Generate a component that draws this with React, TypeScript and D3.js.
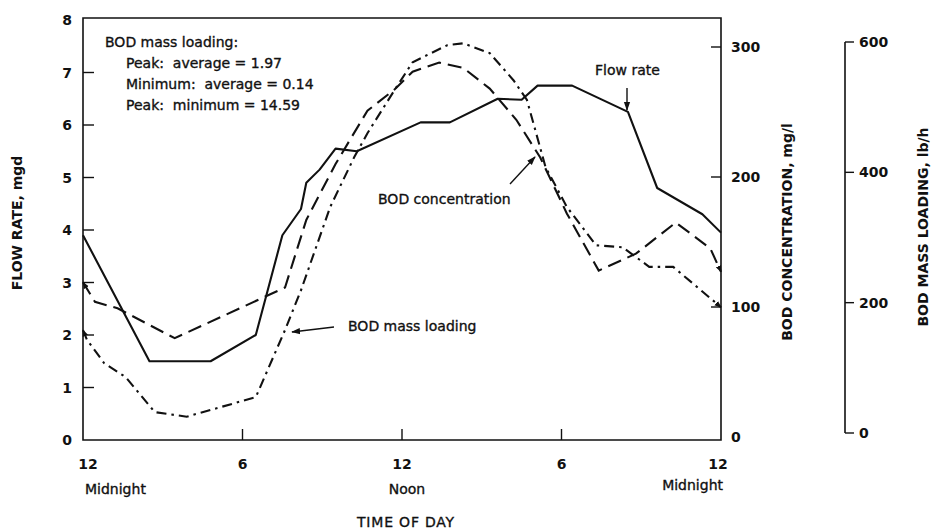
import * as d3 from "d3";

// time of day in hours from midnight
const flowRate: [number, number][] = [
  [0, 3.9], [2.5, 1.5], [4.8, 1.5], [6.5, 2.0], [7.5, 3.9], [8.2, 4.4], [8.4, 4.9],
  [8.9, 5.15], [9.5, 5.55], [10.3, 5.5], [12.7, 6.05], [13.8, 6.05], [15.6, 6.5],
  [16.5, 6.48], [17.1, 6.75], [18.4, 6.75], [20.5, 6.25], [21.6, 4.8], [23.3, 4.3], [24, 3.95],
];

// mg/l
const bodConc: [number, number][] = [
  [0, 119], [0.45, 104], [1.3, 99], [3.45, 76], [7.6, 115], [8.4, 167], [9.5, 210],
  [10.7, 251], [11.7, 267], [12.4, 281], [13.4, 288], [14.3, 284], [15.3, 268],
  [16.3, 244], [17.2, 215], [18.2, 172], [19.4, 128], [20.8, 141], [22.3, 165],
  [23.6, 145], [24, 127],
];

// lb/h
const bodLoad: [number, number][] = [
  [0, 158], [0.15, 143], [0.8, 107], [1.6, 86], [2.7, 32], [3.9, 25], [6.5, 55],
  [7.6, 158], [8.2, 219], [9.3, 347], [10.2, 423], [10.7, 460], [11.7, 525],
  [12.4, 569], [13.7, 595], [14.3, 598], [15.3, 583], [16.2, 541], [16.7, 511],
  [17.4, 408], [18.2, 347], [19.3, 288], [20.3, 285], [21.3, 255], [22.2, 255], [24, 193],
];

const hourTicks = [0, 6, 12, 18, 24];
const hourLabels = ["12", "6", "12", "6", "12"];
const flowTicks = [0, 1, 2, 3, 4, 5, 6, 7, 8];
const concTicks = [0, 100, 200, 300];
const loadTicks = [0, 200, 400, 600];
const noteLines = [
  "Peak:\u00a0\u00a0average = 1.97",
  "Minimum:\u00a0\u00a0average = 0.14",
  "Peak:\u00a0\u00a0minimum = 14.59",
];

const font = "'DejaVu Sans', sans-serif";
const ink = "#111";

export default function App() {
  const x = d3.scaleLinear().domain([0, 24]).range([83, 721]);
  const yFlow = d3.scaleLinear().domain([0, 8]).range([440, 20]);
  const yConc = d3.scaleLinear().domain([0, 300]).range([437, 47]);
  const yLoad = d3.scaleLinear().domain([0, 600]).range([433, 42]);

  const lineFlow = d3.line<[number, number]>().x((d) => x(d[0])).y((d) => yFlow(d[1]));
  const lineConc = d3.line<[number, number]>().x((d) => x(d[0])).y((d) => yConc(d[1]));
  const lineLoad = d3.line<[number, number]>().x((d) => x(d[0])).y((d) => yLoad(d[1]));

  const left = x(0);
  const right = x(24);
  const top = 18;
  const bottom = 440;
  const loadAxisX = 845;

  return (
    <svg
      width={935}
      height={530}
      style={{ position: "absolute", left: 0, top: 0, background: "#fff" }}
      fontFamily={font}
    >
      <defs>
        <marker id="arr" viewBox="0 0 10 10" refX="9" refY="5" markerWidth="9" markerHeight="9"
          markerUnits="userSpaceOnUse" orient="auto-start-reverse">
          <path d="M0,1.5 L10,5 L0,8.5 z" fill={ink} />
        </marker>
        <marker id="tip" viewBox="0 0 10 10" refX="9" refY="5" markerWidth="7" markerHeight="7"
          markerUnits="userSpaceOnUse" orient="auto-start-reverse">
          <path d="M0,1 L10,5 L0,9 z" fill={ink} />
        </marker>
      </defs>

      {/* frame */}
      <path
        d={`M${left},${top} L${right},${top} L${right},${bottom} L${left},${bottom} Z`}
        fill="none"
        stroke={ink}
        strokeWidth={1.6}
      />

      {/* left axis ticks */}
      {flowTicks.map((t) => (
        <g key={"f" + t}>
          {t > 0 && t < 8 && (
            <line x1={left} x2={left + 11} y1={yFlow(t)} y2={yFlow(t)} stroke={ink} strokeWidth={1.4} />
          )}
          <text x={72} y={yFlow(t)} dy="0.36em" textAnchor="end" fontSize={14} fontWeight="bold" fill={ink}>
            {t}
          </text>
        </g>
      ))}

      {/* bottom axis */}
      {hourTicks.map((h, i) => (
        <g key={"h" + i}>
          {h > 0 && h < 24 && (
            <line x1={x(h)} x2={x(h)} y1={bottom} y2={bottom - 11} stroke={ink} strokeWidth={1.4} />
          )}
          <text
            x={x(h) + (i === 0 ? 5 : i === 4 ? -3 : 0)}
            y={469}
            textAnchor="middle"
            fontSize={14}
            fontWeight="bold"
            fill={ink}
          >
            {hourLabels[i]}
          </text>
        </g>
      ))}
      <g fontSize={14} fill={ink} stroke={ink} strokeWidth={0.35}>
        <text x={left + 2} y={494}>Midnight</text>
        <text x={x(12) + 5} y={494} textAnchor="middle">Noon</text>
        <text x={right + 2} y={490} textAnchor="end">Midnight</text>
        <text x={406} y={527} textAnchor="middle" letterSpacing={0.8}>TIME OF DAY</text>
      </g>

      {/* BOD concentration axis */}
      {concTicks.map((t) => (
        <g key={"c" + t}>
          {t > 0 && (
            <line x1={right - 10} x2={right} y1={yConc(t)} y2={yConc(t)} stroke={ink} strokeWidth={1.4} />
          )}
          <text x={right + 10} y={yConc(t)} dy="0.36em" fontSize={14} fontWeight="bold" fill={ink}>
            {t}
          </text>
        </g>
      ))}

      {/* BOD mass loading axis */}
      <line x1={loadAxisX} x2={loadAxisX} y1={yLoad(600)} y2={yLoad(0)} stroke={ink} strokeWidth={1.6} />
      {loadTicks.map((t) => (
        <g key={"l" + t}>
          <line x1={loadAxisX} x2={loadAxisX + 9} y1={yLoad(t)} y2={yLoad(t)} stroke={ink} strokeWidth={1.4} />
          <text x={loadAxisX + 14} y={yLoad(t)} dy="0.36em" fontSize={14} fontWeight="bold" fill={ink}>
            {t}
          </text>
        </g>
      ))}

      {/* axis titles */}
      <g fontSize={14} fontWeight="bold" fill={ink} textAnchor="middle">
        <text transform="translate(22,223) rotate(-90)">FLOW RATE, mgd</text>
        <text transform="translate(792,232) rotate(-90)">BOD CONCENTRATION, mg/l</text>
        <text transform="translate(928,227) rotate(-90)">BOD MASS LOADING, lb/h</text>
      </g>

      {/* curves */}
      <path d={lineFlow(flowRate) ?? ""} fill="none" stroke={ink} strokeWidth={2.1} strokeLinejoin="round" />
      <path
        d={lineConc(bodConc) ?? ""}
        fill="none"
        stroke={ink}
        strokeWidth={2.1}
        strokeDasharray="14,7"
        markerStart="url(#tip)"
        markerEnd="url(#tip)"
      />
      <path
        d={lineLoad(bodLoad) ?? ""}
        fill="none"
        stroke={ink}
        strokeWidth={2.1}
        strokeDasharray="10,5,2.5,5"
        markerStart="url(#tip)"
        markerEnd="url(#tip)"
      />

      {/* annotation */}
      <g fontSize={14} fill={ink} stroke={ink} strokeWidth={0.35}>
        <text x={105} y={47}>BOD mass loading:</text>
        {noteLines.map((s, i) => (
          <text key={s} x={126} y={68 + i * 21}>
            {s}
          </text>
        ))}
      </g>

      {/* callouts */}
      <g fontSize={14} fill={ink} stroke={ink} strokeWidth={0.35}>
        <text x={595} y={75}>Flow rate</text>
        <text x={378} y={204}>BOD concentration</text>
        <text x={348} y={331}>BOD mass loading</text>
      </g>
      <line x1={627} y1={88} x2={627} y2={110} stroke={ink} strokeWidth={1.4} markerEnd="url(#arr)" />
      <line x1={510} y1={184} x2={535} y2={157} stroke={ink} strokeWidth={1.4} markerEnd="url(#arr)" />
      <line x1={334} y1={327} x2={292} y2={332} stroke={ink} strokeWidth={1.4} markerEnd="url(#arr)" />
    </svg>
  );
}
